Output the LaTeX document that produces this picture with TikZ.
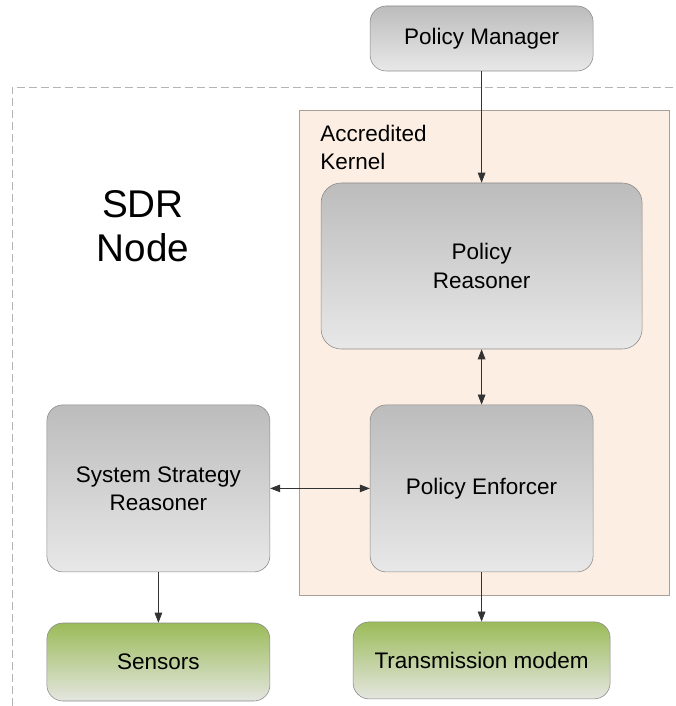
\documentclass[tikz,border=0pt]{standalone}
\usepackage{fontspec}
\setmainfont{Liberation Sans}
\usetikzlibrary{arrows.meta}

\definecolor{boxtop}{HTML}{BCBCBC}
\definecolor{boxbot}{HTML}{E8E8E8}
\definecolor{greentop}{HTML}{9BBB59}
\definecolor{greenbot}{HTML}{E4E6E0}
\definecolor{kernelfill}{HTML}{FDEEE3}
\definecolor{kerneledge}{HTML}{A89F98}
\definecolor{edgegray}{HTML}{8A8A8A}
\definecolor{dashgray}{HTML}{B4B4B4}

\tikzset{
	block/.style={draw=edgegray, rounded corners=0.4cm, top color=boxtop, bottom color=boxbot,
		align=center, font=\fontsize{16}{20}\selectfont, minimum width=5.575cm, minimum height=4.175cm},
	device/.style={block, top color=greentop, bottom color=greenbot, minimum height=1.95cm},
	link/.style={draw=black!80, line width=0.5pt, -{Triangle[length=2.5mm, width=1.9mm]}},
	dlink/.style={link, {Triangle[length=2.5mm, width=1.9mm]}-{Triangle[length=2.5mm, width=1.9mm]}}
}

\begin{document}
\begin{tikzpicture}
		\useasboundingbox (0,0) rectangle (16.9,-17.65);
		
		% node boundary
		\draw[dashgray, line width=0.7pt, dash pattern=on 0.2cm off 0.1cm] (0.3,-17.65) -- (0.3,-2.175) -- (16.9,-2.175);
		\node[font=\fontsize{27.5}{31}\selectfont, align=center] (sdr) at (3.575,-5.65) {SDR\\Node};
		
		% accredited kernel
		\node[draw=kerneledge, fill=kernelfill, minimum width=9.25cm, minimum height=12.125cm] (kernel) at (12.1,-8.8125) {};
		\node[anchor=north west, inner sep=0pt, align=left, font=\fontsize{16}{20}\selectfont] (kernellabel) at (8.0,-3.12) {Accredited\\Kernel};
		
		\node[block, minimum height=1.625cm] (pm) at (12.04,-0.9625) {Policy Manager};
		\node[block, minimum width=8.025cm, minimum height=4.15cm, rounded corners=0.5cm] (reasoner) at (12.04,-6.65) {Policy\\Reasoner};
		\node[block] (enforcer) at (12.04,-12.21) {Policy Enforcer};
		\node[block] (ssr) at (3.96,-12.21) {System Strategy\\Reasoner};
		
		\node[device] (sensors) at (3.96,-16.55) {Sensors};
		\node[device, minimum width=6.425cm, minimum height=1.925cm] (modem) at (12.04,-16.51) {Transmission modem};
		
		\draw[link] (pm) -- (reasoner);
		\draw[dlink] (reasoner) -- (enforcer);
		\draw[dlink] (ssr) -- (enforcer);
		\draw[link] (ssr) -- (sensors);
		\draw[link] (enforcer) -- (modem);
	
	\end{tikzpicture}
\end{document}
